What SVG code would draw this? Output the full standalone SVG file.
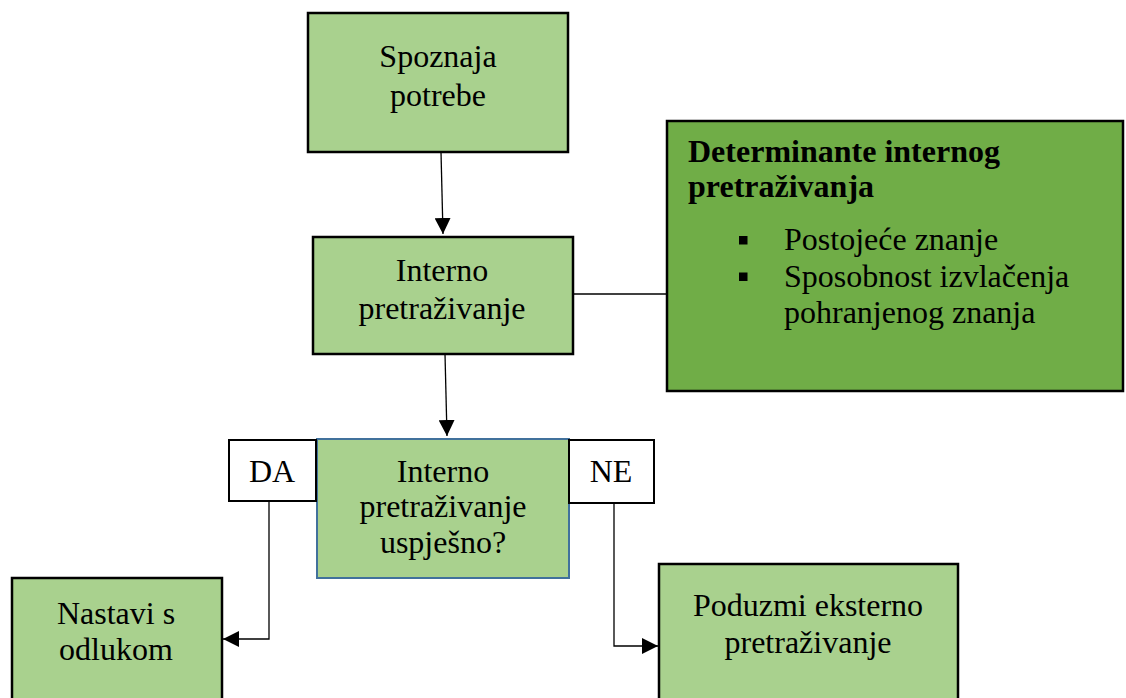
<svg xmlns="http://www.w3.org/2000/svg" width="1126" height="698" viewBox="0 0 1126 698">
<style>
.box{fill:#A9D18E;stroke:#000;stroke-width:2.5}
.lbl{fill:#fff;stroke:#000;stroke-width:2}
.t{font-family:"Liberation Serif","Times New Roman",serif;font-size:32px;fill:#000;text-anchor:middle}
.tl{font-family:"Liberation Serif","Times New Roman",serif;font-size:32px;fill:#000}
.b{font-weight:bold}
.c{fill:none;stroke:#000;stroke-width:1.3}
</style>
<defs>
<marker id="ah" viewBox="0 0 10 10" refX="10" refY="5" markerWidth="16" markerHeight="16" markerUnits="userSpaceOnUse" orient="auto">
<path d="M0,0 L10,5 L0,10 Z" fill="#000"/>
</marker>
</defs>
<rect width="1126" height="698" fill="#fff"/>
<g id="connectors">
<line class="c" x1="441" y1="152" x2="443" y2="234" marker-end="url(#ah)"/>
<line class="c" x1="445" y1="354" x2="447" y2="436" marker-end="url(#ah)"/>
<line class="c" x1="568" y1="294" x2="666" y2="294"/>
<polyline class="c" points="269,501 269,639 223,639" marker-end="url(#ah)"/>
<polyline class="c" points="614,503 614,646 658,646" marker-end="url(#ah)"/>
</g>
<g id="n1">
<rect class="box" x="308" y="13" width="260" height="139"/>
<text class="t" x="438" y="67">Spoznaja</text>
<text class="t" x="438" y="106">potrebe</text>
</g>
<g id="n2">
<rect class="box" x="313" y="237" width="260" height="117"/>
<text class="t" x="442" y="281">Interno</text>
<text class="t" x="442" y="319">pretraživanje</text>
</g>
<g id="n3">
<rect x="317" y="439" width="252" height="139" fill="#A9D18E" stroke="#41719C" stroke-width="2"/>
<text class="t" x="443" y="482">Interno</text>
<text class="t" x="443" y="517">pretraživanje</text>
<text class="t" x="443" y="553">uspješno?</text>
</g>
<g id="da">
<rect class="lbl" x="229" y="440" width="87" height="61"/>
<text class="t" x="272" y="482">DA</text>
</g>
<g id="ne">
<rect class="lbl" x="569" y="440" width="85" height="63"/>
<text class="t" x="611" y="482">NE</text>
</g>
<g id="n4">
<rect class="box" x="12" y="578" width="210" height="130"/>
<text class="t" x="116" y="624">Nastavi s</text>
<text class="t" x="116" y="660">odlukom</text>
</g>
<g id="n5">
<rect class="box" x="659" y="564" width="299" height="144"/>
<text class="t" x="808" y="616">Poduzmi eksterno</text>
<text class="t" x="808" y="653">pretraživanje</text>
</g>
<g id="n6">
<rect x="667" y="121" width="456" height="270" fill="#70AD47" stroke="#000" stroke-width="2.5"/>
<text class="tl b" x="688" y="162">Determinante internog</text>
<text class="tl b" x="688" y="197">pretraživanja</text>
<rect x="739" y="236" width="8.5" height="8.5" fill="#000"/>
<rect x="739" y="272.5" width="8.5" height="8.5" fill="#000"/>
<text class="tl" x="784" y="250">Postojeće znanje</text>
<text class="tl" x="784" y="287">Sposobnost izvlačenja</text>
<text class="tl" x="784" y="323">pohranjenog znanja</text>
</g>
</svg>
